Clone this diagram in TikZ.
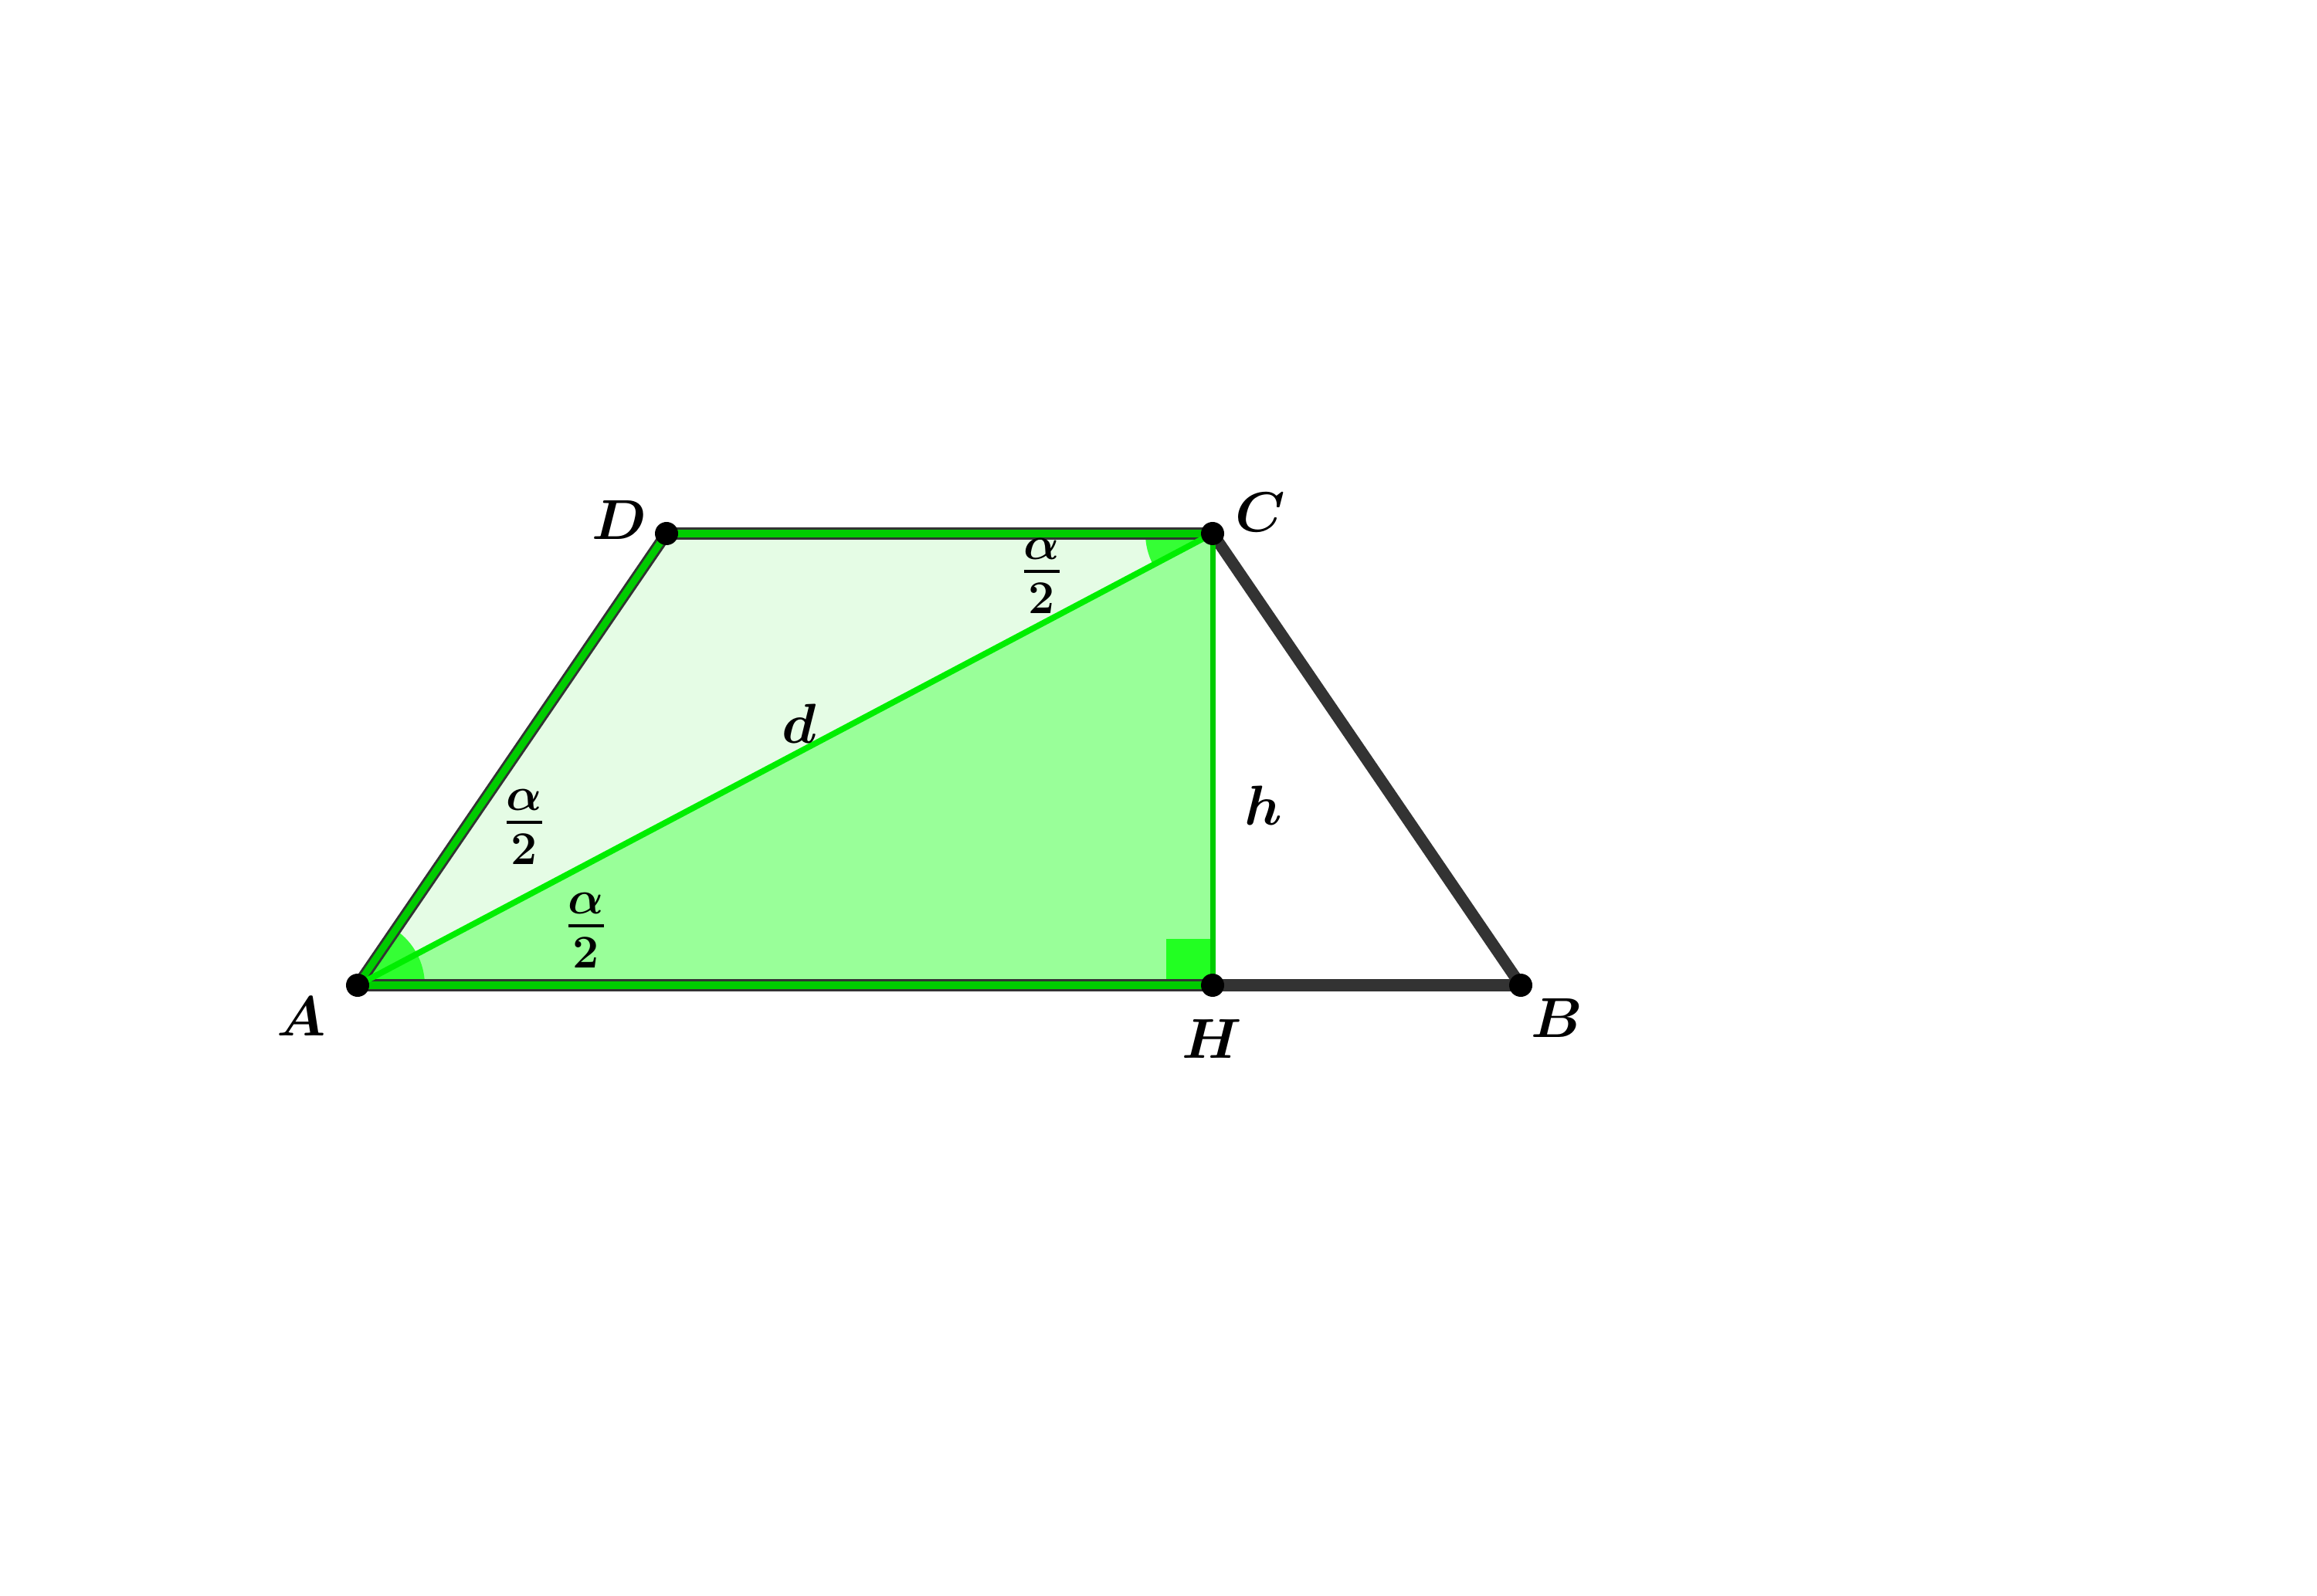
\documentclass[tikz,border=0pt]{standalone}
\usepackage{amsmath}
\definecolor{dunkel}{HTML}{333333}
\definecolor{kante}{HTML}{00CC00}
\definecolor{diag}{HTML}{00EE00}
\definecolor{hell}{HTML}{E5FCE5}
\definecolor{mittel}{HTML}{99FF99}
\definecolor{winkel}{HTML}{22FF22}
\begin{document}
\begin{tikzpicture}[
    vertex/.style={fill=black, circle, inner sep=0pt, minimum size=0.3cm},
    lbl/.style={font=\fontsize{21}{25}\selectfont\boldmath},
    halb/.style={font=\fontsize{25}{30}\selectfont\boldmath},
    seite/.style={draw=dunkel, line width=4.3pt},
    gruen/.style={draw=kante, line width=2.6pt}
  ]
  \useasboundingbox (0,0) rectangle (30,20.66);

  \coordinate (A) at (4.63,7.90);
  \coordinate (B) at (19.69,7.90);
  \coordinate (C) at (15.70,13.75);
  \coordinate (D) at (8.63,13.75);
  \coordinate (H) at (15.70,7.90);

  % filled triangles
  \fill[hell] (A) -- (C) -- (D) -- cycle;
  \fill[mittel] (A) -- (H) -- (C) -- cycle;

  % angle marks
  \fill[winkel, opacity=0.9] (A) -- ++(0:0.87) arc[start angle=0, end angle=55.64, radius=0.87] -- cycle;
  \fill[winkel, opacity=0.9] (C) -- ++(180:0.87) arc[start angle=180, end angle=207.85, radius=0.87] -- cycle;
  \fill[winkel] (H) rectangle ++(-0.6,0.6);

  % sides
  \draw[seite] (A) -- (B);
  \draw[seite] (B) -- (C);
  \draw[seite] (C) -- (D);
  \draw[seite] (D) -- (A);
  \draw[gruen] (A) -- (H);
  \draw[gruen] (C) -- (D);
  \draw[gruen] (D) -- (A);
  \draw[kante, line width=2pt] (H) -- (C);
  \draw[diag, line width=2.2pt] (A) -- (C);

  % points
  \node[vertex] (pA) at (A) {};
  \node[vertex] (pB) at (B) {};
  \node[vertex] (pC) at (C) {};
  \node[vertex] (pD) at (D) {};
  \node[vertex] (pH) at (H) {};

  % labels
  \node[lbl] (lA) at (3.90,7.50) {$A$};
  \node[lbl] (lB) at (20.16,7.48) {$B$};
  \node[lbl] (lC) at (16.32,14.02) {$C$};
  \node[lbl] (lD) at (8.02,13.93) {$D$};
  \node[lbl] (lH) at (15.69,7.21) {$H$};
  \node[lbl] (ld) at (10.35,11.29) {$d$};
  \node[lbl] (lh) at (16.36,10.23) {$h$};
  \node[halb] (a1) at (6.79,9.95) {$\frac{\alpha}{2}$};
  \node[halb] (a2) at (7.59,8.61) {$\frac{\alpha}{2}$};
  \node[halb] (a3) at (13.49,13.20) {$\frac{\alpha}{2}$};
\end{tikzpicture}
\end{document}
